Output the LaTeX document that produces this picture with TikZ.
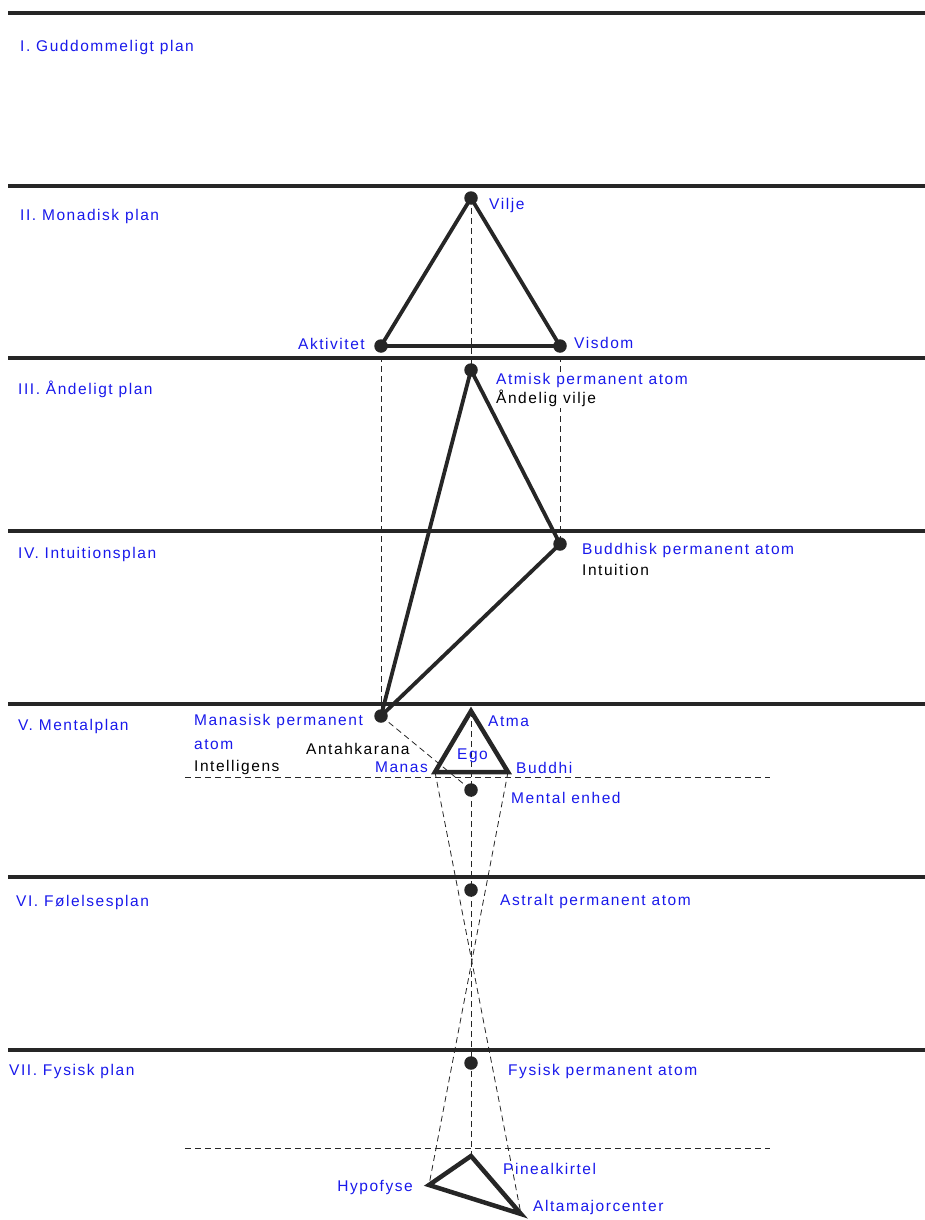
\documentclass[tikz,border=0pt]{standalone}
\usepackage{fontspec}
\setmainfont{Liberation Sans}[LetterSpace=10]
\definecolor{lbl}{RGB}{25,25,235}
\definecolor{ink}{RGB}{38,38,38}
\tikzset{
  plane/.style={draw=ink,line width=3.8pt},
  tri/.style={draw=ink,line width=3.8pt,line join=round},
  tribig/.style={draw=ink,line width=4.5pt,line join=miter},
  guide/.style={draw=ink,line width=0.8pt,dash pattern=on 6pt off 4pt},
  dot/.style={circle,fill=ink,inner sep=0pt,minimum size=13.5pt},
  blab/.style={text=lbl,anchor=west,inner sep=0pt,yshift=-1.5pt},
  klab/.style={text=black,anchor=west,inner sep=0pt,yshift=-1.5pt},
}
\begin{document}
\begin{tikzpicture}[x=1pt,y=-1pt,font=\fontsize{15.5}{18}\selectfont]
\useasboundingbox (0,0) rectangle (925,1220);
% plane boundaries
\foreach \n/\yy in {p0/13,p1/186,p2/358,p3/531,p4/704,p5/877,p6/1050}{
  \coordinate (\n L) at (8,\yy);
  \coordinate (\n R) at (925,\yy);
  \draw[plane] (\n L) -- (\n R);
}
% dashed horizontal guides
\coordinate (hmL) at (185,777); \coordinate (hmR) at (770,777);
\coordinate (hbL) at (185,1148); \coordinate (hbR) at (770,1148);
\draw[guide] (hmL) -- (hmR);
\draw[guide] (hbL) -- (hbR);
% points
\node[dot] (vilje) at (471,198) {};
\node[dot] (akt) at (381,346) {};
\node[dot] (visdom) at (560,346) {};
\node[dot] (atmisk) at (471,370) {};
\node[dot] (buddhisk) at (560,544) {};
\node[dot] (manasisk) at (381,716) {};
\node[dot] (mental) at (471,790) {};
\node[dot] (astral) at (471,890) {};
\node[dot] (fysisk) at (471,1063) {};
\coordinate (atma) at (471,711);
\coordinate (manas) at (435,772);
\coordinate (buddhi) at (508,772);
\coordinate (pineal) at (471,1156);
\coordinate (hypo) at (429,1185);
\coordinate (alta) at (521,1214);
% dashed connectors
\draw[guide] (vilje.center) -- (atmisk.center);
\draw[guide] (akt.center) -- (manasisk.center);
\draw[guide] (visdom.center) -- (buddhisk.center);
\draw[guide] (manasisk.center) -- (mental.center);
\draw[guide] (atma) -- (pineal);
\draw[guide] (manas) -- (alta);
\draw[guide] (buddhi) -- (hypo);
% solid triangles
\draw[tri] (vilje.center) -- (akt.center) -- (visdom.center) -- cycle;
\draw[tri] (atmisk.center) -- (buddhisk.center) -- (manasisk.center) -- cycle;
\draw[tribig] (atma) -- (manas) -- (buddhi) -- cycle;
\draw[tribig] (pineal) -- (hypo) -- (alta) -- cycle;
% plane names
\node[blab] (n1) at (20,46) {I. Guddommeligt plan};
\node[blab] (n2) at (20,215) {II. Monadisk plan};
\node[blab] (n3) at (18,388) {III. Åndeligt plan};
\node[blab] (n4) at (18,553) {IV. Intuitionsplan};
\node[blab] (n5) at (18,725) {V. Mentalplan};
\node[blab] (n6) at (16,901) {VI. Følelsesplan};
\node[blab] (n7) at (9,1070) {VII. Fysisk plan};
% point labels
\node[blab] (lvilje) at (489,204) {Vilje};
\node[blab,anchor=east] (lakt) at (365,342) {Aktivitet};
\node[blab] (lvisdom) at (574,341) {Visdom};
\node[blab,fill=white,inner sep=1pt] (latm) at (495,379) {Atmisk permanent atom};
\node[klab,fill=white,inner sep=1pt] (latm2) at (495,397) {Åndelig vilje};
\node[blab] (lbud) at (582,549) {Buddhisk permanent atom};
\node[klab] (lbud2) at (582,568) {Intuition};
\node[blab] (lman1) at (194,720) {Manasisk permanent};
\node[blab] (lman2) at (194,743) {atom};
\node[klab] (lman3) at (194,766) {Intelligens};
\node[klab] (lant) at (306,747) {Antahkarana};
\node[blab] (latma) at (488,720) {Atma};
\node[blab] (lego) at (457,754) {Ego};
\node[blab,anchor=east] (lmanas) at (428,766) {Manas};
\node[blab] (lbuddhi) at (516,766) {Buddhi};
\node[blab] (lmental) at (511,796) {Mental enhed};
\node[blab] (lastral) at (500,900) {Astralt permanent atom};
\node[blab] (lfys) at (508,1070) {Fysisk permanent atom};
\node[blab] (lpin) at (503,1167) {Pinealkirtel};
\node[blab,anchor=east] (lhypo) at (413,1186) {Hypofyse};
\node[blab] (lalta) at (533,1206) {Altamajorcenter};
\end{tikzpicture}
\end{document}
